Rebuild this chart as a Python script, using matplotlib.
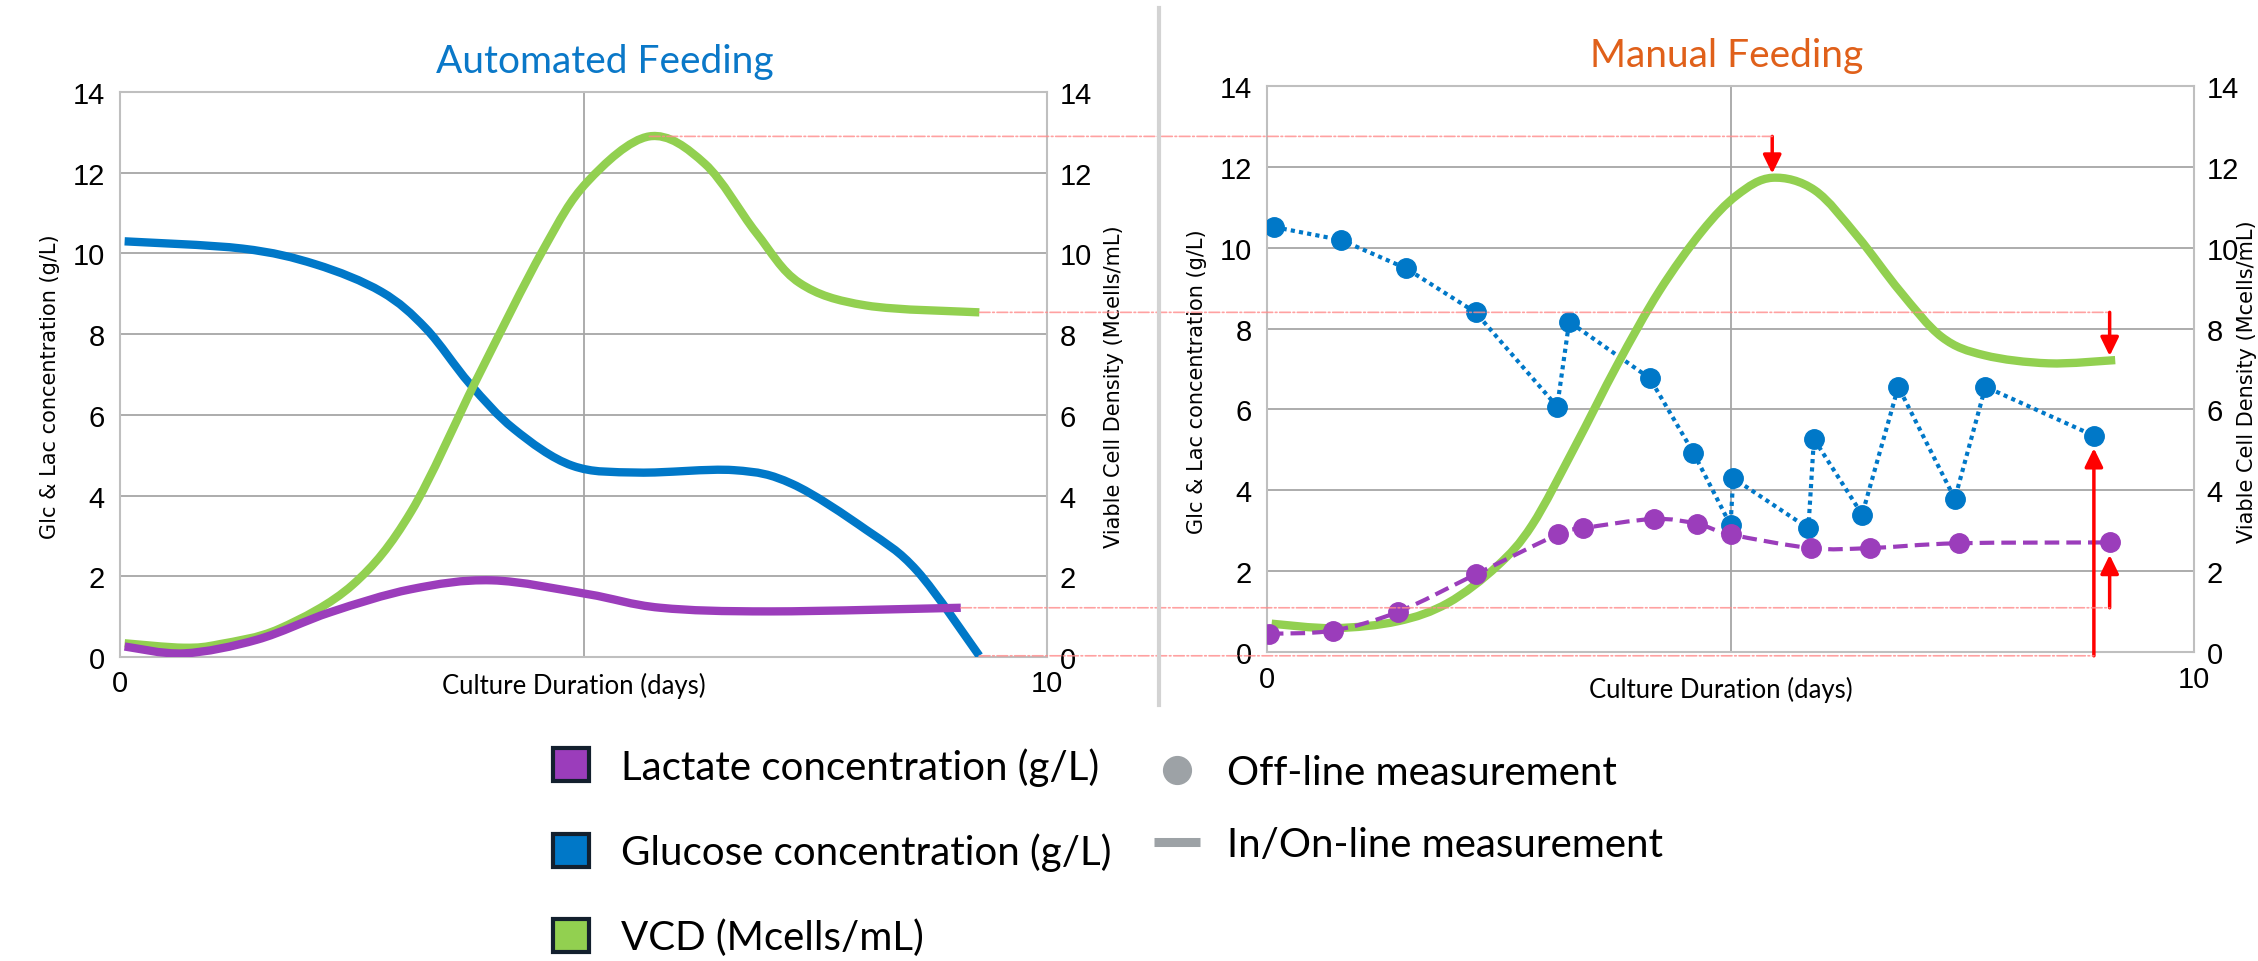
#Two-panel chart: automated vs manual feeding of a cell culture.
import matplotlib
matplotlib.use("Agg")
import matplotlib.pyplot as plt
import numpy as np
from matplotlib.path import Path
from matplotlib.patches import PathPatch, Patch, ConnectionPatch
from matplotlib.lines import Line2D
from matplotlib.transforms import blended_transform_factory

#Automated feeding, in-line curves (day, value)
auto_day_vcd = [0.05, 0.69, 1.08, 1.72, 2.51, 3.14, 3.85, 4.56, 5.04, 5.71, 6.31, 6.86, 7.33, 8.05, 9.27]
auto_vcd = [0.34, 0.23, 0.32, 0.7, 1.79, 3.6, 6.89, 10.07, 11.77, 12.9, 12.22, 10.52, 9.27, 8.71, 8.54]

auto_day_glc = [0.05, 1.32, 2.11, 2.82, 3.3, 3.77, 4.25, 4.88, 5.59, 6.62, 7.25, 8.05, 8.6, 9.27]
auto_glc = [10.3, 10.12, 9.73, 9.05, 8.14, 6.78, 5.65, 4.74, 4.57, 4.63, 4.29, 3.15, 2.13, 0.03]

auto_day_lac = [0.05, 0.69, 1.48, 2.27, 3.14, 4.01, 5.04, 5.83, 7.02, 9.07]
auto_lac = [0.26, 0.09, 0.43, 1.11, 1.68, 1.9, 1.56, 1.22, 1.13, 1.22]

#Manual feeding, in-line VCD curve
man_day_vcd = [0.05, 0.72, 1.41, 1.95, 2.48, 2.86, 3.32, 3.78, 4.23, 4.69, 5.07, 5.45, 5.91, 6.37, 6.83, 7.28, 7.74, 8.43, 9.15]
man_vcd = [0.7, 0.59, 0.76, 1.21, 2.12, 3.14, 5.07, 7.11, 8.92, 10.4, 11.3, 11.73, 11.42, 10.28, 8.92, 7.79, 7.34, 7.14, 7.22]

#Manual feeding, off-line samples
man_day_glc = [0.08, 0.8, 1.5, 2.25, 3.13, 3.26, 4.13, 4.6, 5.0, 5.03, 5.84, 5.9, 6.42, 6.81, 7.42, 7.75, 8.92]
man_glc = [10.51, 10.19, 9.49, 8.4, 6.07, 8.17, 6.77, 4.93, 3.14, 4.3, 3.06, 5.27, 3.4, 6.56, 3.79, 6.56, 5.35]

man_day_lac = [0.02, 0.71, 1.41, 2.25, 3.14, 3.41, 4.17, 4.64, 5.0, 5.87, 6.5, 7.46, 9.09]
man_lac = [0.45, 0.53, 0.99, 1.92, 2.91, 3.06, 3.29, 3.17, 2.91, 2.57, 2.57, 2.69, 2.71]

y_ticks = [0, 2, 4, 6, 8, 10, 12, 14]
x_ticks = [0, 5, 10]
x_tick_labels = ["0", "", "10"]

PURPLE = "#9B3DBB"
BLUE = "#0078C8"
GREEN = "#92D050"
RED = "#FF0000"
PINK = "#FF8A8A"
GREY = "#9DA2A6"
NAVY = "#13202E"

W, H = 2258, 962
plt.rcParams["font.family"] = ["Liberation Sans", "DejaVu Sans"]


def box(left, top, right, bottom):
    """Axes rectangle from pixel edges."""
    return [left / W, 1 - bottom / H, (right - left) / W, (bottom - top) / H]


def smooth(ax, x, y, **kw):
    """Smoothed line through the points, like a spreadsheet smoothed line."""
    pts = np.column_stack([x, y]).astype(float)
    n = len(pts)
    verts = [pts[0]]
    codes = [Path.MOVETO]
    for i in range(n - 1):
        p0 = pts[max(i - 1, 0)]
        p1 = pts[i]
        p2 = pts[i + 1]
        p3 = pts[min(i + 2, n - 1)]
        verts += [p1 + (p2 - p0) / 6, p2 - (p3 - p1) / 6, p2]
        codes += [Path.CURVE4] * 3
    ax.add_patch(PathPatch(Path(verts, codes), fill=False, **kw))


def style(ax, title, title_color, title_x, xlab_y, right_lab_x, left_lab_x):
    ax.set_xlim(0, 10)
    ax.set_ylim(0, 14)
    ax.set_xticks(x_ticks)
    ax.set_xticklabels(x_tick_labels)
    ax.set_yticks(y_ticks)
    ax.tick_params(length=0, labelsize=21)
    ax.tick_params(axis="y", pad=11)
    ax.tick_params(axis="x", pad=9)
    ax.grid(True, color="#A6A6A6", lw=1.3)
    for s in ax.spines.values():
        s.set_color("#BFBFBF")
        s.set_linewidth(1.5)
    ax.set_ylabel("Glc & Lac concentration (g/L)", fontsize=15,
                  family="DejaVu Sans", va="center")
    ax.yaxis.set_label_coords(left_lab_x, 0.48)
    ax.set_xlabel("Culture Duration (days)", fontsize=18.5, family="Lato", va="center")
    ax.xaxis.set_label_coords(0.49, xlab_y)
    ax.text(title_x, 1.054, title, transform=ax.transAxes, ha="center", va="center",
            fontsize=28, family="Lato", color=title_color)

    twin = ax.twinx()
    twin.set_ylim(0, 14)
    twin.set_yticks(y_ticks)
    twin.tick_params(length=0, labelsize=21, pad=9)
    for s in twin.spines.values():
        s.set_visible(False)
    twin.set_ylabel("Viable Cell Density (Mcells/mL)", fontsize=15,
                    family="DejaVu Sans", va="center")
    twin.yaxis.set_label_coords(right_lab_x, 0.48)
    return twin


def main():
    fig = plt.figure(figsize=(W / 100, H / 100), dpi=100)
    ax1 = fig.add_axes(box(120, 93, 1047, 658))
    ax2 = fig.add_axes(box(1267, 87, 2194, 653))

    style(ax1, "Automated Feeding", "#0A78C8", 0.523, -0.05, 1.072, -0.0755)
    style(ax2, "Manual Feeding", "#E0601A", 0.496, -0.066, 1.0575, -0.076)

    #Automated feeding: in-line curves only.
    smooth(ax1, auto_day_glc, auto_glc, edgecolor=BLUE, lw=6, zorder=3)
    smooth(ax1, auto_day_vcd, auto_vcd, edgecolor=GREEN, lw=6, zorder=4)
    smooth(ax1, auto_day_lac, auto_lac, edgecolor=PURPLE, lw=6, zorder=5)

    #Manual feeding: off-line glucose and lactate, in-line VCD.
    ax2.plot(man_day_glc, man_glc, ls=(0, (1, 1)), lw=3, color=BLUE,
             marker="o", ms=14, zorder=3)
    smooth(ax2, man_day_vcd, man_vcd, edgecolor=GREEN, lw=6, zorder=4)
    smooth(ax2, man_day_lac, man_lac, edgecolor=PURPLE, lw=3,
           linestyle=(0, (3.5, 1.7)), zorder=5)
    ax2.plot(man_day_lac, man_lac, ls="none", color=PURPLE, marker="o", ms=14, zorder=6)

    #Comparison guides: automated end values carried over to manual panel.
    to_right = blended_transform_factory(ax2.transData, ax1.transData)
    peak_a = int(np.argmax(auto_vcd))
    peak_m = int(np.argmax(man_vcd))
    guides = [
        (auto_day_vcd[peak_a], auto_vcd[peak_a], man_day_vcd[peak_m], man_vcd[peak_m], 3),
        (auto_day_vcd[-1], auto_vcd[-1], man_day_lac[-1], man_vcd[-1], 3),
        (auto_day_lac[-1], auto_lac[-1], man_day_lac[-1], man_lac[-1], 9),
        (auto_day_glc[-1], auto_glc[-1], man_day_glc[-1], man_glc[-1], 9),
    ]
    for xa, ya, xm, ym, shrink in guides:
        con = ConnectionPatch(xyA=(xa, ya), coordsA=ax1.transData,
                              xyB=(xm, ya), coordsB=to_right,
                              color=PINK, lw=1.2, linestyle="-.", alpha=0.8)
        fig.add_artist(con)
        ax2.annotate("", xy=(xm, ym), xycoords="data",
                     xytext=(xm, ya), textcoords=to_right,
                     arrowprops=dict(arrowstyle="-|>,head_length=0.45,head_width=0.22",
                                     color=RED, lw=2.5, mutation_scale=25,
                                     shrinkA=0, shrinkB=shrink),
                     annotation_clip=False, zorder=7)

    #Separator between the panels.
    fig.add_artist(Line2D([1159 / W, 1159 / W], [1 - 9 / H, 1 - 706 / H],
                          color="#D3D3D3", lw=3))

    #Legends.
    series_handles = [Patch(facecolor=c, edgecolor=NAVY, lw=3) for c in (PURPLE, BLUE, GREEN)]
    series_labels = ["Lactate concentration (g/L)", "Glucose concentration (g/L)", "VCD (Mcells/mL)"]
    fig.legend(series_handles, series_labels, loc="upper left",
               bbox_to_anchor=(553 / W, 1 - 748 / H), frameon=False,
               prop=dict(family="Lato", size=29), handlelength=0.9, handleheight=0.9,
               handletextpad=0.79, labelspacing=1.17, borderpad=0, borderaxespad=0)

    kind_handles = [Line2D([], [], ls="none", marker="o", ms=20, color=GREY),
                    Line2D([], [], color=GREY, lw=6.5, solid_capstyle="butt")]
    kind_labels = ["Off-line measurement", "In/On-line measurement"]
    fig.legend(kind_handles, kind_labels, loc="upper left",
               bbox_to_anchor=(1154 / W, 1 - 755 / H), frameon=False,
               prop=dict(family="Lato", size=29), handlelength=1.14,
               handletextpad=0.67, labelspacing=0.86, borderpad=0, borderaxespad=0,
               numpoints=1)

    fig.savefig("out.png", dpi=100)


if __name__ == '__main__':
    main()
